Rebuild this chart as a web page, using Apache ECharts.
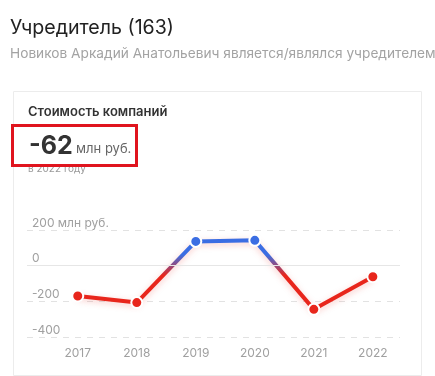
<!DOCTYPE html>
<html>
<head>
<meta charset="utf-8">
<script src="https://cdn.jsdelivr.net/npm/echarts@6/dist/echarts.min.js"></script>
<style>
  html, body { margin: 0; padding: 0; background: #fff; }
  #chart { width: 435px; height: 376px; }
</style>
</head>
<body>
<div id="chart"></div>
<script>
// Стоимость компаний по годам
const years = [2017, 2018, 2019, 2020, 2021, 2022];
const values = [-170, -207, 136, 142, -245, -62];
const yTicks = [-400, -200, 0, 200];

const red = "#e8261c";
const blue = "#3b6ee3";
const font = "Inter, 'Noto Sans', sans-serif";

const chart = echarts.init(document.getElementById("chart"));

const option = {
  animation: false,
  textStyle: { fontFamily: font },
  graphic: [
    {
      type: "text", left: 10, top: 18,
      style: { text: "Учредитель (163)", fontSize: 19.6, fill: "#222", fontFamily: font },
    },
    {
      type: "text", left: 10, top: 47,
      style: {
        text: "Новиков Аркадий Анатольевич является/являлся учредителем 163 компаний",
        fontSize: 13.7, fill: "#a3a3a3", fontFamily: font,
      },
    },
    {
      type: "rect", left: 11, top: 89,
      shape: { width: 408, height: 284 },
      style: { fill: "none", stroke: "#ececec", lineWidth: 1 },
    },
    {
      type: "text", left: 28, top: 106,
      style: { text: "Стоимость компаний", fontSize: 13, fontWeight: 600, fill: "#333", fontFamily: font },
    },
    {
      type: "text", left: 29, top: 134,
      style: {
        text: "{a|-62} {b|млн руб.}",
        fontFamily: font,
        rich: {
          a: { fontSize: 25, fontWeight: 700, fill: "#333", fontFamily: font },
          b: { fontSize: 13, fill: "#666", fontFamily: font, padding: [6, 0, 0, 0] },
        },
      },
    },
    {
      type: "text", left: 28, top: 164,
      style: { text: "в 2022 году", fontSize: 10, fill: "#9a9a9a", fontFamily: font },
    },
    {
      type: "rect", left: 10, top: 123, z: 10,
      shape: { width: 124, height: 40 },
      style: { fill: "none", stroke: "#e0141e", lineWidth: 3 },
    },
  ],
  grid: { left: 27, right: 35, top: 230, bottom: 39 },
  xAxis: {
    type: "value",
    min: 2016.14,
    max: 2022.46,
    axisLine: { show: false },
    axisTick: { show: false },
    splitLine: { show: false },
    axisLabel: {
      customValues: years,
      margin: 10,
      fontSize: 12,
      color: "#a0a0a0",
      formatter: (v) => String(v),
    },
  },
  yAxis: {
    type: "value",
    min: yTicks[0],
    max: yTicks[yTicks.length - 1],
    interval: 200,
    axisLine: { show: false },
    axisTick: { show: false },
    splitLine: { lineStyle: { color: "#e2e2e2", type: [6, 6] } },
    axisLabel: {
      inside: true,
      margin: 5,
      verticalAlign: "bottom",
      padding: [0, 0, 1, 0],
      fontSize: 12,
      color: "#a0a0a0",
      formatter: (v) => (v === 200 ? "200 млн руб." : String(v)),
    },
  },
  visualMap: {
    show: false,
    type: "continuous",
    dimension: 1,
    min: -285,
    max: 290,
    inRange: { color: [red, red, red, blue, blue, blue] },
  },
  series: [
    {
      type: "line",
      data: years.map((y, i) => [y, values[i]]),
      symbol: "circle",
      symbolSize: 11,
      itemStyle: { borderColor: "#fff", borderWidth: 2 },
      lineStyle: { width: 4, shadowBlur: 6, shadowColor: "rgba(232,38,28,0.25)", shadowOffsetY: 2 },
      markLine: {
        silent: true,
        symbol: "none",
        label: { show: false },
        lineStyle: { color: "#e6e6e6", type: "solid", width: 1 },
        data: [{ yAxis: 0 }],
      },
      z: 3,
    },
  ],
};

chart.setOption(option);
</script>
</body>
</html>
